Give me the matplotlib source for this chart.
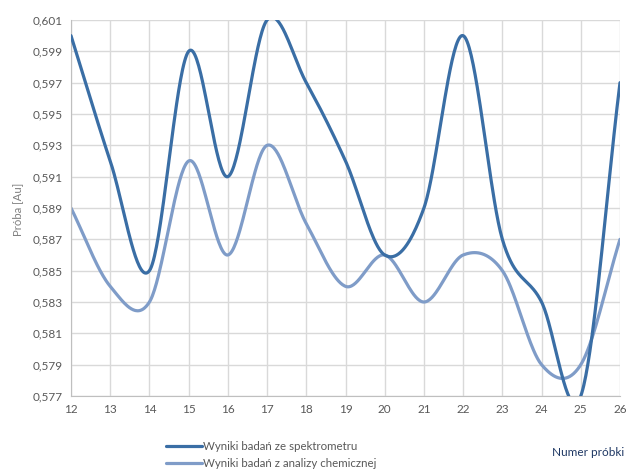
import numpy as np
import matplotlib.pyplot as plt

plt.rcParams['font.family'] = ['Lato', 'DejaVu Sans']

# numer próbki
probki = [12, 13, 14, 15, 16, 17, 18, 19, 20, 21, 22, 23, 24, 25, 26]
spektrometr = [0.600, 0.592, 0.585, 0.599, 0.591, 0.601, 0.597, 0.592,
               0.586, 0.589, 0.600, 0.587, 0.583, 0.577, 0.597]
chemiczna = [0.589, 0.584, 0.583, 0.592, 0.586, 0.593, 0.588, 0.584,
             0.586, 0.583, 0.586, 0.585, 0.579, 0.579, 0.587]
y_ticks = [0.577, 0.579, 0.581, 0.583, 0.585, 0.587, 0.589, 0.591,
           0.593, 0.595, 0.597, 0.599, 0.601]


def smooth(x, y, n=40):
    """Catmull-Rom like smoothing (Excel 'smoothed line')"""
    x = np.asarray(x, float)
    y = np.asarray(y, float)
    px = np.concatenate([[2 * x[0] - x[1]], x, [2 * x[-1] - x[-2]]])
    py = np.concatenate([[2 * y[0] - y[1]], y, [2 * y[-1] - y[-2]]])
    xs, ys = [], []
    t = np.linspace(0, 1, n)
    for i in range(1, len(px) - 2):
        mx0 = (px[i + 1] - px[i - 1]) / 2
        mx1 = (px[i + 2] - px[i]) / 2
        my0 = (py[i + 1] - py[i - 1]) / 2
        my1 = (py[i + 2] - py[i]) / 2
        h00 = 2 * t**3 - 3 * t**2 + 1
        h10 = t**3 - 2 * t**2 + t
        h01 = -2 * t**3 + 3 * t**2
        h11 = t**3 - t**2
        xs.append(h00 * px[i] + h10 * mx0 + h01 * px[i + 1] + h11 * mx1)
        ys.append(h00 * py[i] + h10 * my0 + h01 * py[i + 1] + h11 * my1)
    return np.concatenate(xs), np.concatenate(ys)


fig = plt.figure(figsize=(6.26, 4.71), dpi=100)
ax = fig.add_axes([71 / 626, 1 - 396 / 471, 549 / 626, 376 / 471])

sx, sy = smooth(probki, spektrometr)
cx, cy = smooth(probki, chemiczna)
ax.plot(sx, sy, color='#3A6EA5', lw=2.3, solid_capstyle='round',
        label='Wyniki badań ze spektrometru', zorder=3)
ax.plot(cx, cy, color='#7F9CC8', lw=2.3, solid_capstyle='round',
        label='Wyniki badań z analizy chemicznej', zorder=2)

ax.set_xlim(12, 26)
ax.set_ylim(0.577, 0.601)
ax.set_xticks(probki)
ax.set_yticks(y_ticks)
ax.set_yticklabels([f'{v:.3f}'.replace('.', ',') for v in y_ticks])
ax.grid(True, color='#D9D9D9', lw=1)
ax.set_axisbelow(True)
ax.tick_params(length=0, labelsize=8.5, labelcolor='#595959', pad=6)
for s in ['top', 'right']:
    ax.spines[s].set_visible(False)
for s in ['left', 'bottom']:
    ax.spines[s].set_color('#BFBFBF')

fig.text(18 / 626, 1 - 209 / 471, 'Próba [Au]', rotation=90, ha='center',
         va='center', fontsize=8.2, color='#808080')
fig.text(624 / 626, 1 - 453 / 471, 'Numer próbki', ha='right', va='center',
         fontsize=8.5, color='#1F3864')

fig.legend(loc='upper left', bbox_to_anchor=(158 / 626, 1 - 433 / 471),
           frameon=False, fontsize=8.3, labelcolor='#595959',
           handlelength=3.1, handletextpad=0.12, labelspacing=0.55,
           borderpad=0.2)

fig.savefig('out.png', dpi=100)
